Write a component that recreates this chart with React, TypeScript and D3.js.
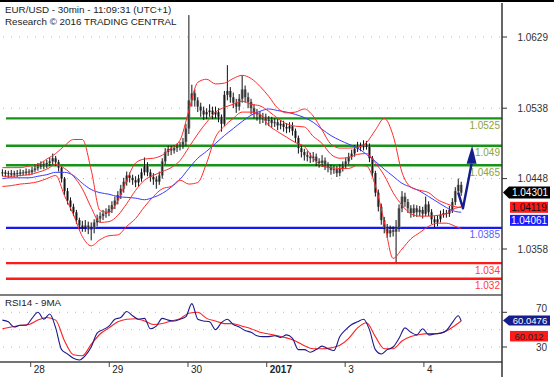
import React from 'react';
import * as d3 from 'd3';

const W = 554;
const H = 377;
const AXIS_X = 502;
const FONT = 'Liberation Sans, Arial, sans-serif';

// ---- price bars (30min EUR/USD) ----
const firstOpen = 1.0455;
const closes = [
  1.0456, 1.0454, 1.0455, 1.0453, 1.0455, 1.0454, 1.0456, 1.0455, 1.0457, 1.0456,
  1.0459, 1.0461, 1.0463, 1.0466, 1.0464, 1.0468, 1.0470, 1.0474, 1.0469, 1.0462,
  1.0448, 1.0432, 1.0420, 1.0412, 1.0405, 1.0395, 1.0388, 1.0386, 1.0388, 1.0383,
  1.0384, 1.0392, 1.0397, 1.0400, 1.0403, 1.0405, 1.0409, 1.0414, 1.0420, 1.0427,
  1.0435, 1.0444, 1.0452, 1.0449, 1.0446, 1.0443, 1.0448, 1.0456, 1.0466, 1.0456,
  1.0450, 1.0447, 1.0444, 1.0452, 1.0470, 1.0482, 1.0486, 1.0484, 1.0487, 1.0489,
  1.0491, 1.0495, 1.0512, 1.0548, 1.0557, 1.0548, 1.0540, 1.0535, 1.0530, 1.0533,
  1.0535, 1.0530, 1.0533, 1.0527, 1.0518, 1.0555, 1.0560, 1.0552, 1.0545, 1.0540,
  1.0550, 1.0562, 1.0552, 1.0546, 1.0538, 1.0532, 1.0530, 1.0525, 1.0527, 1.0522,
  1.0523, 1.0519, 1.0520, 1.0516, 1.0518, 1.0514, 1.0512, 1.0515, 1.0509, 1.0500,
  1.0487, 1.0482, 1.0478, 1.0476, 1.0474, 1.0476, 1.0470, 1.0468, 1.0471, 1.0465,
  1.0462, 1.0459, 1.0460, 1.0455, 1.0461, 1.0465, 1.0470, 1.0476, 1.0480, 1.0486,
  1.0490, 1.0488, 1.0492, 1.0490, 1.0474, 1.0455, 1.0430, 1.0412, 1.0395, 1.0385,
  1.0378, 1.0382, 1.0380, 1.0385, 1.0410, 1.0425, 1.0418, 1.0410, 1.0404, 1.0410,
  1.0405, 1.0408, 1.0403, 1.0415, 1.0405, 1.0396, 1.0392, 1.0396, 1.0402, 1.0404,
  1.0403, 1.0408, 1.0418, 1.0432, 1.0440, 1.0430,
];
const highs = [
  1.0460, 1.0459, 1.0458, 1.0459, 1.0458, 1.0459, 1.0460, 1.0459, 1.0461, 1.0460,
  1.0463, 1.0466, 1.0468, 1.0470, 1.0470, 1.0472, 1.0475, 1.0480, 1.0477, 1.0472,
  1.0464, 1.0450, 1.0436, 1.0424, 1.0416, 1.0408, 1.0398, 1.0394, 1.0395, 1.0393,
  1.0392, 1.0396, 1.0402, 1.0405, 1.0408, 1.0410, 1.0414, 1.0419, 1.0425, 1.0432,
  1.0440, 1.0449, 1.0457, 1.0456, 1.0453, 1.0451, 1.0453, 1.0461, 1.0475, 1.0469,
  1.0460, 1.0455, 1.0451, 1.0457, 1.0474, 1.0487, 1.0490, 1.0490, 1.0491, 1.0493,
  1.0495, 1.0500, 1.0518, 1.0657, 1.0568, 1.0562, 1.0552, 1.0545, 1.0540, 1.0538,
  1.0543, 1.0540, 1.0540, 1.0538, 1.0530, 1.0560, 1.0593, 1.0565, 1.0558, 1.0550,
  1.0556, 1.0580, 1.0567, 1.0558, 1.0550, 1.0543, 1.0537, 1.0534, 1.0532, 1.0531,
  1.0528, 1.0527, 1.0525, 1.0524, 1.0523, 1.0522, 1.0519, 1.0520, 1.0520, 1.0512,
  1.0503, 1.0490, 1.0486, 1.0483, 1.0481, 1.0482, 1.0480, 1.0474, 1.0478, 1.0475,
  1.0469, 1.0466, 1.0465, 1.0464, 1.0466, 1.0470, 1.0475, 1.0481, 1.0485, 1.0491,
  1.0495, 1.0494, 1.0497, 1.0496, 1.0493, 1.0477, 1.0458, 1.0434, 1.0416, 1.0399,
  1.0390, 1.0388, 1.0387, 1.0395, 1.0415, 1.0432, 1.0430, 1.0422, 1.0414, 1.0415,
  1.0414, 1.0413, 1.0412, 1.0425, 1.0419, 1.0409, 1.0400, 1.0401, 1.0407, 1.0409,
  1.0408, 1.0413, 1.0423, 1.0437, 1.0448, 1.0444,
];
const lows = [
  1.0451, 1.0450, 1.0449, 1.0450, 1.0450, 1.0450, 1.0451, 1.0452, 1.0452, 1.0452,
  1.0453, 1.0456, 1.0458, 1.0460, 1.0460, 1.0461, 1.0464, 1.0466, 1.0464, 1.0457,
  1.0443, 1.0427, 1.0415, 1.0407, 1.0400, 1.0390, 1.0383, 1.0380, 1.0380, 1.0377,
  1.0369, 1.0378, 1.0387, 1.0392, 1.0395, 1.0398, 1.0400, 1.0404, 1.0409, 1.0415,
  1.0422, 1.0430, 1.0439, 1.0443, 1.0440, 1.0437, 1.0438, 1.0444, 1.0452, 1.0451,
  1.0444, 1.0440, 1.0435, 1.0440, 1.0448, 1.0466, 1.0477, 1.0478, 1.0480, 1.0482,
  1.0484, 1.0486, 1.0490, 1.0505, 1.0540, 1.0540, 1.0533, 1.0527, 1.0523, 1.0524,
  1.0527, 1.0524, 1.0525, 1.0520, 1.0508, 1.0515, 1.0548, 1.0545, 1.0538, 1.0532,
  1.0535, 1.0545, 1.0545, 1.0538, 1.0530, 1.0525, 1.0522, 1.0518, 1.0519, 1.0516,
  1.0515, 1.0513, 1.0514, 1.0510, 1.0511, 1.0508, 1.0506, 1.0507, 1.0503, 1.0494,
  1.0480, 1.0475, 1.0471, 1.0470, 1.0468, 1.0469, 1.0464, 1.0462, 1.0463, 1.0459,
  1.0456, 1.0453, 1.0454, 1.0450, 1.0451, 1.0457, 1.0461, 1.0466, 1.0472, 1.0476,
  1.0482, 1.0483, 1.0484, 1.0485, 1.0469, 1.0450, 1.0425, 1.0406, 1.0389, 1.0378,
  1.0372, 1.0373, 1.0374, 1.0341, 1.0380, 1.0405, 1.0412, 1.0404, 1.0398, 1.0399,
  1.0399, 1.0400, 1.0397, 1.0400, 1.0400, 1.0390, 1.0386, 1.0387, 1.0392, 1.0398,
  1.0398, 1.0399, 1.0404, 1.0414, 1.0428, 1.0426,
];

// ---- overlays (Bollinger bands in red, moving average in blue), sampled at bar indices ----
const bandIdx = [
  0, 3, 6, 9, 12, 15, 18, 21, 24, 27, 30, 33, 36, 39, 42, 45, 48, 51, 54, 57,
  60, 63, 66, 69, 72, 75, 78, 81, 84, 87, 90, 93, 96, 99, 102, 105, 108, 111, 114, 117,
  120, 123, 126, 129, 132, 135, 138, 141, 144, 147, 150, 153, 155,
];
const upperBand = [
  1.0462, 1.0462, 1.0462, 1.0464, 1.0466, 1.0473, 1.0480, 1.0490, 1.0498, 1.0498,
  1.0459, 1.0407, 1.0405, 1.0420, 1.0446, 1.0468, 1.0473, 1.0474, 1.0478, 1.0487,
  1.0497, 1.0535, 1.0571, 1.0575, 1.0569, 1.0570, 1.0576, 1.0580, 1.0576, 1.0566,
  1.0553, 1.0538, 1.0532, 1.0533, 1.0537, 1.0528, 1.0510, 1.0492, 1.0487, 1.0487,
  1.0488, 1.0494, 1.0510, 1.0525, 1.0503, 1.0456, 1.0437, 1.0433, 1.0430, 1.0421,
  1.0416, 1.0412, 1.0411,
];
const midBand = [
  1.0451, 1.0451, 1.0452, 1.0453, 1.0456, 1.0460, 1.0466, 1.0461, 1.0451, 1.0435,
  1.0411, 1.0392, 1.0393, 1.0401, 1.0416, 1.0433, 1.0446, 1.0452, 1.0457, 1.0462,
  1.0471, 1.0488, 1.0505, 1.0520, 1.0533, 1.0539, 1.0543, 1.0547, 1.0543, 1.0541,
  1.0534, 1.0525, 1.0518, 1.0515, 1.0514, 1.0502, 1.0493, 1.0479, 1.0474, 1.0475,
  1.0479, 1.0480, 1.0468, 1.0452, 1.0430, 1.0414, 1.0403, 1.0400, 1.0400, 1.0401,
  1.0403, 1.0410, 1.0412,
];
const lowerBand = [
  1.0438, 1.0439, 1.0441, 1.0442, 1.0444, 1.0448, 1.0452, 1.0426, 1.0402, 1.0374,
  1.0362, 1.0370, 1.0375, 1.0376, 1.0387, 1.0397, 1.0412, 1.0425, 1.0435, 1.0438,
  1.0446, 1.0441, 1.0443, 1.0468, 1.0501, 1.0515, 1.0525, 1.0533, 1.0533, 1.0530,
  1.0516, 1.0508, 1.0501, 1.0494, 1.0489, 1.0474, 1.0464, 1.0462, 1.0461, 1.0461,
  1.0465, 1.0464, 1.0439, 1.0393, 1.0346, 1.0358, 1.0371, 1.0379, 1.0387, 1.0391,
  1.0391, 1.0387, 1.0384,
];
const blueMA = [
  1.0448, 1.0449, 1.0449, 1.0449, 1.0451, 1.0453, 1.0456, 1.0456, 1.0452, 1.0442,
  1.0434, 1.0430, 1.0428, 1.0425, 1.0424, 1.0423, 1.0421, 1.0424, 1.0429, 1.0437,
  1.0447, 1.0461, 1.0474, 1.0483, 1.0493, 1.0503, 1.0512, 1.0521, 1.0529, 1.0534,
  1.0537, 1.0535, 1.0533, 1.0530, 1.0526, 1.0520, 1.0511, 1.0503, 1.0497, 1.0492,
  1.0487, 1.0479, 1.0470, 1.0460, 1.0451, 1.0442, 1.0437, 1.0432, 1.0425, 1.0418,
  1.0411, 1.0406, 1.0405,
];

// ---- RSI14 and its 9MA ----
const rsiIdx = [
  0, 2, 4, 6, 8, 10, 12, 14, 16, 18, 20, 22, 24, 26, 28, 30, 32, 34, 36, 38,
  40, 42, 44, 46, 48, 50, 52, 54, 56, 58, 60, 62, 64, 66, 68, 70, 72, 74, 76, 78,
  80, 82, 84, 86, 88, 90, 92, 94, 96, 98, 100, 102, 104, 106, 108, 110, 112, 114, 116, 118,
  120, 122, 124, 126, 128, 130, 132, 134, 136, 138, 140, 142, 144, 146, 148, 150, 152, 154, 155,
];
const rsiValues = [
  61, 59, 53, 55, 55, 63, 70, 62, 68, 52, 27, 22, 17, 15, 20, 30, 46, 50, 54, 62,
  64, 71, 66, 62, 63, 51, 54, 63, 61, 60, 62, 65, 80, 62, 60, 59, 50, 58, 62, 56,
  53, 49, 47, 43, 42, 42, 43, 41, 44, 40, 27, 27, 24, 27, 31, 28, 26, 42, 50, 56,
  59, 62, 50, 27, 22, 27, 30, 40, 52, 47, 44, 51, 44, 45, 46, 49, 58, 66, 60.0476,
];
const rsiMAValues = [
  51, 53, 55, 56, 61, 64, 61, 37, 21, 20, 33, 45, 52, 59, 62, 62.6, 60, 56, 57, 60,
  62.6, 69, 70, 63, 60, 57, 56.8, 54, 51, 47, 45, 43, 40.5, 37, 31.5, 28, 28, 29, 32, 40,
  52, 58, 42, 28, 28, 37, 42, 44.5, 45.4, 45.4, 48.5, 55, 60.012,
];

// ---- axes ----
const dayStarts = [9.56, 36.1, 62.7, 89.3, 115.8, 142.4];
const dayLabels = ['28', '29', '30', '2017', '3', '4'];
const priceTicks = [1.0629, 1.0538, 1.0448, 1.0358];
const rsiTicks = [70, 30];
const rsiGrid = [70, 50, 30];

// ---- analyst levels ----
const levelValues = [1.0525, 1.049, 1.0465, 1.0385, 1.034, 1.032];
const levelLabels = ['1.0525', '1.049', '1.0465', '1.0385', '1.034', '1.032'];
const levelKinds = ['g', 'g', 'g', 'b', 'r', 'r'];

// ---- arrow scenario (bar index, price) ----
const arrowLine = [
  [154.0, 1.043],
  [155.6, 1.041],
  [158.5, 1.0467],
];
const arrowTip = [158.7, 1.049];

const lastPrice = 1.04301;
const lastMid = 1.04119;
const lastMA = 1.04061;
const lastRsi = 60.0476;
const lastRsiMA = 60.012;

export default function App() {
  const x = d3.scaleLinear().domain([0, 155]).range([2.4, 461.2]);
  const y = d3.scaleLinear().domain([1.0358, 1.0629]).range([249, 37]);
  const yR = d3.scaleLinear().domain([30, 70]).range([347, 312.3]);

  const opens = closes.map((c, i) => (i === 0 ? firstOpen : closes[i - 1]));

  const overlay = (idx: number[], vals: number[], ys: (v: number) => number) =>
    d3
      .line<number>()
      .x((_, j) => x(idx[j]))
      .y((v) => ys(v))
      .curve(d3.curveMonotoneX)(vals) || '';

  const levelColor: Record<string, string> = { g: '#179417', b: '#1818f0', r: '#ff1a1a' };
  const levelText: Record<string, string> = { g: '#8aa43a', b: '#5a5aff', r: '#ff3a3a' };

  const arrowPath = d3.line()(arrowLine.map((p) => [x(p[0]), y(p[1])] as [number, number])) || '';
  const tipX = x(arrowTip[0]);
  const tipY = y(arrowTip[1]);
  const baseX = x(arrowLine[2][0]);
  const baseY = y(arrowLine[2][1]);

  const pointerBox = (cy: number, h: number) => {
    const l = AXIS_X + 1;
    const bx = 509;
    const r = 550;
    return `M${l},${cy} L${bx},${cy - h} L${r},${cy - h} L${r},${cy + h} L${bx},${cy + h} Z`;
  };

  const yPrice = y(lastPrice);
  const yRsiBox = yR(lastRsi) - 0.5;

  return (
    <svg
      width={W}
      height={H}
      viewBox={`0 0 ${W} ${H}`}
      style={{ position: 'absolute', left: 0, top: 0, background: '#fff' }}
      fontFamily={FONT}
    >
      <rect x={0} y={0} width={W} height={H} fill="#fff" />

      {/* grid dotted */}
      {priceTicks.map((t) => (
        <line key={'pg' + t} x1={3} x2={500} y1={y(t)} y2={y(t)} stroke="#b8b8b8" strokeDasharray="1 7" />
      ))}
      {rsiGrid.map((t) => (
        <line key={'rg' + t} x1={3} x2={500} y1={yR(t)} y2={yR(t)} stroke="#b8b8b8" strokeDasharray="1 7" />
      ))}

      {/* level lines */}
      {levelValues.map((v, i) => (
        <line
          key={'lv' + i}
          x1={6}
          x2={AXIS_X}
          y1={y(v)}
          y2={y(v)}
          stroke={levelColor[levelKinds[i]]}
          strokeWidth={2.4}
        />
      ))}

      {/* candles */}
      <g>
        {closes.map((c, i) => {
          const o = opens[i];
          const cx = x(i);
          const top = y(Math.max(o, c));
          const bot = y(Math.min(o, c));
          return (
            <g key={'c' + i}>
              <rect x={cx - 1.4} y={top} width={2.8} height={Math.max(1, bot - top)} fill="#7c7c7c" />
              <line x1={cx} x2={cx} y1={y(highs[i])} y2={y(lows[i])} stroke="#111" strokeWidth={1} />
            </g>
          );
        })}
      </g>

      {/* overlays */}
      <path d={overlay(bandIdx, blueMA, y)} fill="none" stroke="#3a3aff" strokeWidth={1} />
      <path d={overlay(bandIdx, upperBand, y)} fill="none" stroke="#ff2a2a" strokeWidth={1} />
      <path d={overlay(bandIdx, midBand, y)} fill="none" stroke="#ff2a2a" strokeWidth={1} />
      <path d={overlay(bandIdx, lowerBand, y)} fill="none" stroke="#ff2a2a" strokeWidth={1} />

      {/* level labels */}
      {levelValues.map((v, i) => (
        <text key={'ll' + i} x={500} y={y(v) + 10.5} textAnchor="end" fontSize={10} fill={levelText[levelKinds[i]]}>
          {levelLabels[i]}
        </text>
      ))}

      {/* arrow */}
      <path d={arrowPath} fill="none" stroke="#141e8c" strokeWidth={2.4} strokeLinejoin="round" />
      <path d={`M${tipX},${tipY} L${baseX - 5},${baseY} L${baseX + 5},${baseY} Z`} fill="#141e8c" />

      {/* RSI */}
      <path d={overlay(bandIdx, rsiMAValues, yR)} fill="none" stroke="#ff2020" strokeWidth={1.1} />
      <path d={overlay(rsiIdx, rsiValues, yR)} fill="none" stroke="#1a1a8a" strokeWidth={1.1} />

      {/* frame */}
      <line x1={0} x2={W} y1={1} y2={1} stroke="#000" strokeWidth={2} />
      <line x1={0} x2={AXIS_X} y1={295} y2={295} stroke="#555" strokeWidth={1.5} />
      <line x1={0} x2={AXIS_X} y1={362} y2={362} stroke="#444" strokeWidth={1.5} />
      <line x1={AXIS_X} x2={AXIS_X} y1={3} y2={H} stroke="#333" strokeWidth={1.5} />

      {/* titles */}
      <text x={5} y={13} fontSize={9.8} fill="#222">EUR/USD - 30min - 11:09:31 (UTC+1)</text>
      <text x={5} y={25} fontSize={9.8} fill="#222">Research © 2016 TRADING CENTRAL</text>
      <text x={5} y={305.5} fontSize={9.8} fill="#222">RSI14 - 9MA</text>

      {/* x axis */}
      {dayStarts.map((d, i) => (
        <g key={'d' + i}>
          <line x1={x(d)} x2={x(d)} y1={362} y2={367} stroke="#444" />
          <text
            x={x(d) + 3}
            y={373}
            fontSize={10}
            fill="#222"
            fontWeight={dayLabels[i] === '2017' ? 'bold' : 'normal'}
          >
            {dayLabels[i]}
          </text>
        </g>
      ))}

      {/* price axis */}
      {priceTicks.map((t) => (
        <g key={'pt' + t}>
          <line x1={AXIS_X} x2={AXIS_X + 5} y1={y(t)} y2={y(t)} stroke="#333" />
          <text x={548} y={y(t)} dy="0.35em" textAnchor="end" fontSize={10} fill="#333">
            {d3.format('.4f')(t)}
          </text>
        </g>
      ))}
      {rsiTicks.map((t) => (
        <g key={'rt' + t}>
          <line x1={AXIS_X} x2={AXIS_X + 5} y1={yR(t)} y2={yR(t)} stroke="#333" />
          <text x={547} y={yR(t) - (t === 70 ? 4 : 0)} dy="0.35em" textAnchor="end" fontSize={10} fill="#333">
            {t}
          </text>
        </g>
      ))}

      {/* value boxes */}
      <path d={pointerBox(yPrice, 6)} fill="#000" />
      <text x={530} y={yPrice} dy="0.35em" textAnchor="middle" fontSize={10} fill="#fff">
        {d3.format('.5f')(lastPrice)}
      </text>
      <rect x={510} y={y(lastMid) - 5} width={38} height={11} fill="#ff1a1a" />
      <text x={529} y={y(lastMid) + 0.5} dy="0.35em" textAnchor="middle" fontSize={10} fill="#111">
        {d3.format('.5f')(lastMid)}
      </text>
      <rect x={510} y={y(lastMid) + 8} width={38} height={11} fill="#1a1aff" />
      <text x={529} y={y(lastMid) + 13.5} dy="0.35em" textAnchor="middle" fontSize={10} fill="#fff">
        {d3.format('.5f')(lastMA)}
      </text>

      <path d={pointerBox(yRsiBox, 5)} fill="#141e8c" />
      <text x={530} y={yRsiBox} dy="0.35em" textAnchor="middle" fontSize={9.5} fill="#fff">
        {String(lastRsi)}
      </text>
      <rect x={510} y={yRsiBox + 10.5} width={38} height={10.5} fill="#ff1a1a" />
      <text x={529} y={yRsiBox + 15.75} dy="0.35em" textAnchor="middle" fontSize={9.5} fill="#222">
        {String(lastRsiMA)}
      </text>
    </svg>
  );
}
